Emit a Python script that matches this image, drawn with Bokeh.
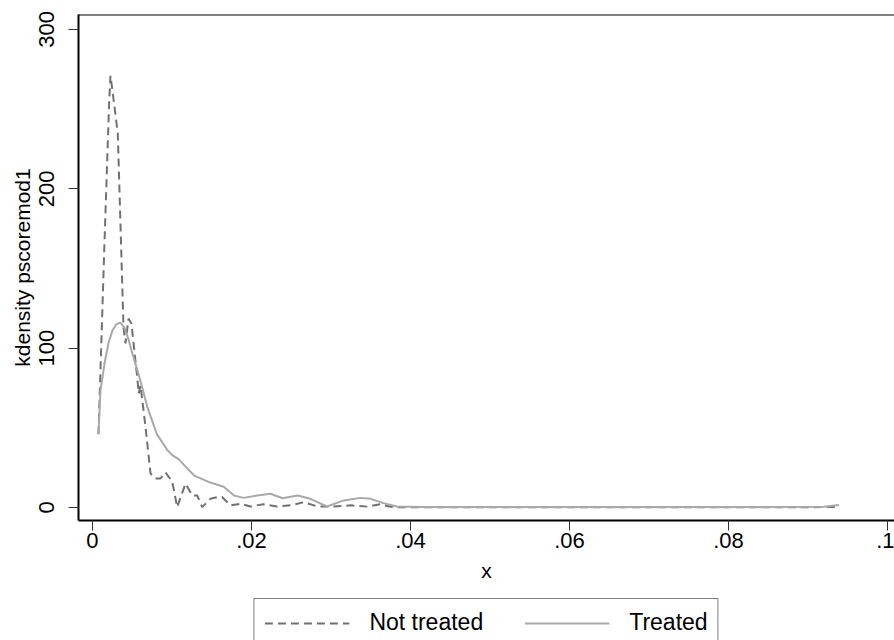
from bokeh.plotting import figure
from bokeh.layouts import column
from bokeh.models import (Range1d, FixedTicker, Legend, LegendItem, Span)
from bokeh.embed import file_html
from bokeh.resources import INLINE

# ---- data ----
x_not_treated = [0.00075, 0.0015, 0.0021, 0.00226, 0.0025, 0.00318, 0.0039, 0.00415, 0.00453,
                 0.0049, 0.00566, 0.00582, 0.00604, 0.00667, 0.0073, 0.00792, 0.00855, 0.00918,
                 0.0096, 0.0100, 0.01065, 0.0117, 0.01254, 0.01317, 0.0138, 0.01484, 0.01568,
                 0.0163, 0.01736, 0.01862, 0.01987, 0.0215, 0.0232, 0.0249, 0.0266, 0.0283,
                 0.0300, 0.0325, 0.0346, 0.0362, 0.0375, 0.0388, 0.05, 0.06, 0.07, 0.08, 0.09, 0.0935]
y_not_treated = [46, 165, 255, 271, 262, 235, 113, 103, 118.5,
                 115.5, 80, 71.5, 76.6, 50.4, 21.3, 18.2, 18.2, 22,
                 19, 17, 0.2, 15, 7.5, 7.5, 0.2, 5.4, 6.5,
                 6.5, 1.3, 2.3, 0.6, 2.0, 0.6, 1.3, 3.3, 0.6,
                 0.5, 1.3, 0.5, 2.0, 0.4, 0.1, 0.05, 0.05, 0.05, 0.05, 0.1, 0.3]

x_treated = [0.00075, 0.0010, 0.0015, 0.0020, 0.0025, 0.0030, 0.0035, 0.0040, 0.0045, 0.0050,
             0.0060, 0.0069, 0.0081, 0.0094, 0.0100, 0.0109, 0.0120, 0.0128, 0.0146, 0.0165,
             0.0178, 0.0190, 0.0207, 0.0224, 0.0239, 0.0258, 0.0274, 0.0295, 0.0316, 0.0337,
             0.0350, 0.0366, 0.0383, 0.0413, 0.06, 0.08, 0.092, 0.0939]
y_treated = [46, 73, 90, 103, 111, 115, 116, 113, 106, 97,
             80, 63, 46, 36, 33, 30, 24, 20, 16, 13,
             7.5, 6, 7.5, 8.6, 5.8, 7.5, 5.4, 0.6, 4.4, 6,
             5.4, 2.7, 0.6, 0.3, 0.2, 0.2, 0.5, 1.5]

x_ticks = [0, 0.02, 0.04, 0.06, 0.08, 0.1]
x_tick_labels = ["0", ".02", ".04", ".06", ".08", ".1"]
y_ticks = [0, 100, 200, 300]
series_names = ["Not treated", "Treated"]

FONT = "Liberation Sans"
Y_END = 309.4
NT_STYLE = dict(line_color="#717171", line_width=2, line_dash="8 5")
T_STYLE = dict(line_color="#a9a9a9", line_width=2)

p = figure(frame_width=816, frame_height=506, output_backend="svg", toolbar_location=None,
           x_range=Range1d(-0.00176, 0.10088), y_range=Range1d(-8.2, Y_END),
           min_border_left=78, min_border_right=0, min_border_top=14, min_border_bottom=76)
p.outline_line_color = None
p.xgrid.visible = False
p.ygrid.visible = False
p.background_fill_color = "white"
p.border_fill_color = "white"

p.line(x_not_treated, y_not_treated, **NT_STYLE)
p.line(x_treated, y_treated, **T_STYLE)

# top border of the plot region
p.add_layout(Span(location=Y_END, dimension="width", line_color="black", line_width=2))

# x axis
xa = p.xaxis[0]
xa.ticker = FixedTicker(ticks=x_ticks)
xa.major_label_overrides = {t: l for t, l in zip(x_ticks, x_tick_labels)}
xa.axis_label = "x"
xa.axis_line_color = "black"
xa.axis_line_width = 2
xa.major_tick_in = 0
xa.major_tick_out = 10
xa.major_tick_line_color = "#333333"
xa.minor_tick_line_color = None
xa.major_label_text_font = FONT
xa.major_label_text_font_size = "22px"
xa.major_label_text_color = "black"
xa.major_label_standoff = 2
xa.axis_label_text_font = FONT
xa.axis_label_text_font_size = "21px"
xa.axis_label_text_font_style = "normal"
xa.axis_label_text_color = "black"
xa.axis_label_standoff = 8

# y axis
ya = p.yaxis[0]
ya.ticker = FixedTicker(ticks=y_ticks)
ya.axis_label = "kdensity pscoremod1"
ya.axis_line_color = "black"
ya.axis_line_width = 2
ya.major_tick_in = 0
ya.major_tick_out = 10
ya.major_tick_line_color = "#333333"
ya.minor_tick_line_color = None
ya.major_label_orientation = "vertical"
ya.major_label_text_font = FONT
ya.major_label_text_font_size = "22px"
ya.major_label_text_color = "black"
ya.major_label_standoff = 14
ya.axis_label_text_font = FONT
ya.axis_label_text_font_size = "21px"
ya.axis_label_text_font_style = "normal"
ya.axis_label_text_color = "black"
ya.axis_label_standoff = 3

# ---- legend strip below the plot (keys are drawn out of its view) ----
pl = figure(width=894, height=44, output_backend="svg", toolbar_location=None,
            x_range=Range1d(1, 2), y_range=Range1d(1, 2),
            x_axis_location=None, y_axis_location=None,
            min_border_left=0, min_border_right=0, min_border_top=0, min_border_bottom=0)
pl.outline_line_color = None
pl.xgrid.visible = False
pl.ygrid.visible = False
pl.border_fill_color = "white"
k_nt = pl.line(x_not_treated, y_not_treated, **NT_STYLE)
k_t = pl.line(x_treated, y_treated, **T_STYLE)

legend = Legend(items=[LegendItem(label=series_names[0], renderers=[k_nt]),
                       LegendItem(label=series_names[1], renderers=[k_t])],
                orientation="horizontal", location="top_center",
                border_line_color="black", border_line_width=1.2,
                label_text_font=FONT, label_text_font_size="23px", label_text_color="black",
                glyph_width=85, glyph_height=22, label_standoff=20, spacing=41,
                padding=10, margin=2, background_fill_color="white")
pl.add_layout(legend, "center")

open("out.html", "w").write(file_html(column(p, pl, spacing=0), INLINE))
